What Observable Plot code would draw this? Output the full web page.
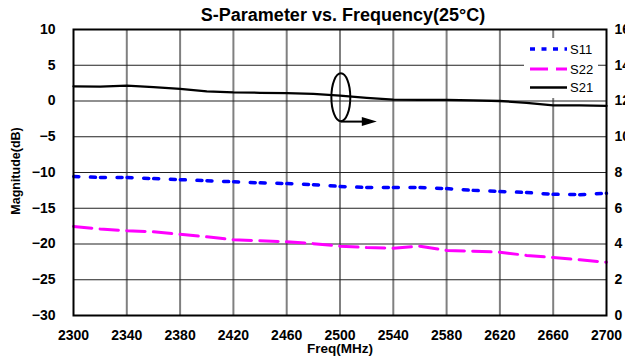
<!DOCTYPE html>
<html>
<head>
<meta charset="utf-8">
<script src="https://cdn.jsdelivr.net/npm/d3@7"></script>
<script src="https://cdn.jsdelivr.net/npm/@observablehq/plot@0.6"></script>
<style>
  html, body { margin: 0; padding: 0; background: #fff; }
  svg { display: block; }
</style>
</head>
<body>
<div id="chart"></div>
<script>
const freq = [2300,2320,2340,2360,2380,2400,2420,2440,2460,2480,2500,2520,2540,2560,2580,2600,2620,2640,2660,2680,2700];
const s11 = [-10.55,-10.7,-10.7,-10.85,-11.0,-11.15,-11.3,-11.45,-11.55,-11.7,-11.95,-12.1,-12.1,-12.1,-12.25,-12.5,-12.65,-12.8,-13.05,-13.1,-12.9];
const s22 = [-17.55,-17.9,-18.15,-18.3,-18.65,-19.0,-19.4,-19.55,-19.7,-19.95,-20.3,-20.5,-20.6,-20.3,-20.9,-21.0,-21.15,-21.6,-21.9,-22.2,-22.55];
const s21 = [2.05,2.0,2.15,1.95,1.7,1.35,1.2,1.15,1.1,1.0,0.75,0.45,0.2,0.15,0.15,0.1,0.0,-0.25,-0.6,-0.62,-0.68];
const freqTicks = [2300,2340,2380,2420,2460,2500,2540,2580,2620,2660,2700];
const magTicks = [-30,-25,-20,-15,-10,-5,0,5,10];
const rightTickLabels = [0,2,4,6,8,10,12,14,16];
const seriesNames = ["S11","S22","S21"];
const seriesColors = ["#0000ff","#ff00ff","#000000"];
// annotation: ellipse around S21 with arrow pointing right (data units)
const ellipseCenter = {f: 2501, db: 0.45, rf: 7.1, rdb: 3.35};
const arrowSpec = {f1: 2501, f2: 2528, db: -2.95};

const rows = (vals) => freq.map((f, i) => ({f, v: vals[i]}));
const FONT = "'Liberation Sans', Arial, Helvetica, sans-serif";

const plot = Plot.plot({
  width: 625,
  height: 363,
  marginTop: 29,
  marginBottom: 48,
  marginLeft: 73,
  marginRight: 19,
  style: {fontFamily: FONT, fontSize: "14px", fontWeight: "bold", background: "#fff", overflow: "visible"},
  x: {domain: [2300, 2700]},
  y: {domain: [-30, 10]},
  marks: [
    Plot.ruleX(freqTicks.slice(1, -1), {stroke: "#808080", strokeWidth: 2}),
    Plot.ruleY(magTicks.slice(1, -1), {stroke: "#222", strokeWidth: 1.2}),
    Plot.line(rows(s22), {x: "f", y: "v", stroke: seriesColors[1], strokeWidth: 3, strokeDasharray: "18.4,8.3"}),
    Plot.line(rows(s11), {x: "f", y: "v", stroke: seriesColors[0], strokeWidth: 3.5, strokeDasharray: "5,5,5,11.65", strokeDashoffset: 9.7}),
    Plot.line(rows(s21), {x: "f", y: "v", stroke: seriesColors[2], strokeWidth: 2.3}),
    Plot.frame({stroke: "#000", strokeWidth: 2}),
    Plot.axisX(freqTicks, {tickSize: 0, tickPadding: 15, label: null, fontSize: 14, tickFormat: d => String(d)}),
    Plot.axisY(magTicks, {anchor: "left", tickSize: 0, tickPadding: 18, label: null, fontSize: 14}),
    Plot.axisY(magTicks, {anchor: "right", tickSize: 0, tickPadding: 8, label: null, fontSize: 14,
      tickFormat: d => String(rightTickLabels[magTicks.indexOf(d)])})
  ]
});

const sx = plot.scale("x"), sy = plot.scale("y");
const svg = d3.select(plot);

// annotation ellipse and arrow
const cx = sx.apply(ellipseCenter.f), cy = sy.apply(ellipseCenter.db);
const rx = sx.apply(ellipseCenter.f + ellipseCenter.rf) - cx;
const ry = sy.apply(ellipseCenter.db - ellipseCenter.rdb) - cy;
svg.append("ellipse").attr("cx", cx).attr("cy", cy).attr("rx", rx).attr("ry", ry)
  .attr("fill", "none").attr("stroke", "#000").attr("stroke-width", 2);
const ax1 = sx.apply(arrowSpec.f1), ax2 = sx.apply(arrowSpec.f2), ay = sy.apply(arrowSpec.db);
svg.append("line").attr("x1", ax1).attr("x2", ax2 - 12).attr("y1", ay).attr("y2", ay)
  .attr("stroke", "#000").attr("stroke-width", 2);
svg.append("path").attr("d", `M${ax2},${ay} L${ax2 - 15},${ay - 4.5} L${ax2 - 15},${ay + 4.5} Z`).attr("fill", "#000");

// legend
const lg = svg.append("g");
lg.append("rect").attr("x", 524).attr("y", 38).attr("width", 74).attr("height", 60).attr("fill", "#fff");
const legendY = [49, 69, 87.5];
const legendDash = ["5,6.5", "18,8", null];
const legendW = [3.5, 3, 2.3];
seriesNames.forEach((name, i) => {
  const ln = lg.append("line").attr("x1", 530).attr("x2", 567).attr("y1", legendY[i]).attr("y2", legendY[i])
    .attr("stroke", seriesColors[i]).attr("stroke-width", legendW[i]);
  if (legendDash[i]) ln.attr("stroke-dasharray", legendDash[i]);
  lg.append("text").attr("x", 570).attr("y", legendY[i] + 4.6).attr("text-anchor", "start").text(name)
    .attr("font-family", FONT).attr("font-size", 13).attr("font-weight", "normal").attr("fill", "#000");
});

// titles
svg.append("text").attr("x", 343).attr("y", 21).attr("text-anchor", "middle")
  .attr("font-family", FONT).attr("font-size", 18).attr("font-weight", "bold").text("S-Parameter vs. Frequency(25°C)");
svg.append("text").attr("x", 340).attr("y", 353).attr("text-anchor", "middle")
  .attr("font-family", FONT).attr("font-size", 13.5).attr("font-weight", "bold").text("Freq(MHz)");
svg.append("text").attr("transform", "translate(20,171) rotate(-90)").attr("text-anchor", "middle")
  .attr("font-family", FONT).attr("font-size", 12.5).attr("font-weight", "bold").text("Magnitude(dB)");

document.getElementById("chart").append(plot);
</script>
</body>
</html>
